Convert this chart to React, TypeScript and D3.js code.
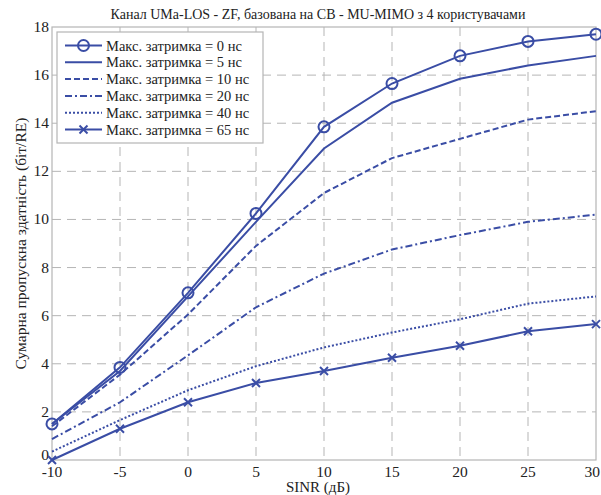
import React from 'react';
import * as d3 from 'd3';

const sinr = [-10, -5, 0, 5, 10, 15, 20, 25, 30];
const delay0 = [1.5, 3.85, 6.95, 10.25, 13.85, 15.65, 16.8, 17.4, 17.7];
const delay5 = [1.5, 3.7, 6.8, 9.9, 12.95, 14.85, 15.85, 16.4, 16.8];
const delay10 = [1.4, 3.55, 6.05, 8.9, 11.1, 12.55, 13.35, 14.15, 14.5];
const delay20 = [0.87, 2.4, 4.35, 6.35, 7.75, 8.75, 9.35, 9.9, 10.2];
const delay40 = [0.35, 1.66, 2.9, 3.9, 4.68, 5.3, 5.85, 6.5, 6.8];
const delay65 = [0.0, 1.3, 2.4, 3.2, 3.7, 4.25, 4.75, 5.35, 5.65];
const seriesNames = [
  'Макс. затримка = 0 нс',
  'Макс. затримка = 5 нс',
  'Макс. затримка = 10 нс',
  'Макс. затримка = 20 нс',
  'Макс. затримка = 40 нс',
  'Макс. затримка = 65 нс',
];
const xTicks = [-10, -5, 0, 5, 10, 15, 20, 25, 30];
const yTicks = [0, 2, 4, 6, 8, 10, 12, 14, 16, 18];

const BLUE = '#3a4da5';
const GRID = '#b5b5b5';
const FONT = '"Liberation Serif", "Times New Roman", serif';

const margin = { top: 27, right: 5, bottom: 35, left: 52 };
const W = 601;
const H = 495;

// line style per series
const styles = [
  { dash: null, marker: 'circle' },
  { dash: null, marker: null },
  { dash: '6,3', marker: null },
  { dash: '7,3,2,3', marker: null },
  { dash: '2,2', marker: null },
  { dash: null, marker: 'x' },
];

export default function App() {
  const x = d3.scaleLinear().domain([-10, 30]).range([margin.left, W - margin.right]);
  const y = d3.scaleLinear().domain([0, 18]).range([H - margin.bottom, margin.top]);
  const data = [delay0, delay5, delay10, delay20, delay40, delay65];
  const line = d3.line<number>().x((_, i) => x(sinr[i])).y(d => y(d));

  const marker = (type: string | null, cx: number, cy: number, key: string) => {
    if (type === 'circle') {
      return <circle key={key} cx={cx} cy={cy} r={5.5} fill="none" stroke={BLUE} strokeWidth={2} />;
    }
    if (type === 'x') {
      const s = 4;
      return (
        <g key={key} stroke={BLUE} strokeWidth={2}>
          <line x1={cx - s} y1={cy - s} x2={cx + s} y2={cy + s} />
          <line x1={cx - s} y1={cy + s} x2={cx + s} y2={cy - s} />
        </g>
      );
    }
    return null;
  };

  const left = x(-10), right = x(30), top = y(18), bottom = y(0);
  const lg = { x: 57, y: 32, w: 206, h: 111, row: 16.8 };

  return (
    <svg width={W} height={H} style={{ position: 'absolute', left: 0, top: 0 }} fontFamily={FONT}>
      <rect width={W} height={H} fill="#fff" />
      {/* grid */}
      {xTicks.slice(1, -1).map(t => (
        <line key={'gx' + t} x1={x(t)} x2={x(t)} y1={top} y2={bottom} stroke={GRID} strokeDasharray="9,6" />
      ))}
      {yTicks.slice(1, -1).map(t => (
        <line key={'gy' + t} x1={left} x2={right} y1={y(t)} y2={y(t)} stroke={GRID} strokeDasharray="9,6" />
      ))}
      <rect x={left} y={top} width={right - left} height={bottom - top} fill="none" stroke={GRID} strokeWidth={1.2} />
      {/* tick labels */}
      {xTicks.map((t, i) => {
        const last = i === xTicks.length - 1;
        return (
          <text key={'tx' + t} x={last ? W - 1 : x(t)} y={bottom + 17} textAnchor={last ? 'end' : 'middle'}
            fontSize={15.5} fill="#222">{t}</text>
        );
      })}
      {yTicks.map(t => (
        <text key={'ty' + t} x={left - 3} y={y(t) + (t === 0 ? 0 : 5)} textAnchor="end" fontSize={15.5} fill="#222">{t}</text>
      ))}
      <text x={318} y={492} textAnchor="middle" fontSize={15} fill="#222">SINR (дБ)</text>
      <text transform={`translate(26, ${(top + bottom) / 2}) rotate(-90)`} textAnchor="middle" fontSize={15.5} fill="#222">
        Сумарна пропускна здатність (біт/RE)
      </text>
      <text x={318} y={19} textAnchor="middle" fontSize={14} fill="#222">
        Канал UMa-LOS - ZF, базована на СВ - MU-MIMO з 4 користувачами
      </text>
      {/* series */}
      {data.map((vals, si) => (
        <g key={'s' + si}>
          <path d={line(vals) || ''} fill="none" stroke={BLUE} strokeWidth={2}
            strokeDasharray={styles[si].dash || undefined} />
          {vals.map((v, i) => marker(styles[si].marker, x(sinr[i]), y(v), `m${si}-${i}`))}
        </g>
      ))}
      {/* legend */}
      <rect x={lg.x} y={lg.y} width={lg.w} height={lg.h} fill="#fff" stroke={GRID} strokeWidth={1.2} />
      {seriesNames.map((name, i) => {
        const cy = lg.y + 13.5 + i * lg.row;
        return (
          <g key={'l' + i}>
            <line x1={65} x2={102} y1={cy} y2={cy} stroke={BLUE} strokeWidth={2}
              strokeDasharray={styles[i].dash || undefined} />
            {marker(styles[i].marker, 83.5, cy, 'lm' + i)}
            <text x={106} y={cy + 5} fontSize={14.5} fill="#222">{name}</text>
          </g>
        );
      })}
    </svg>
  );
}
